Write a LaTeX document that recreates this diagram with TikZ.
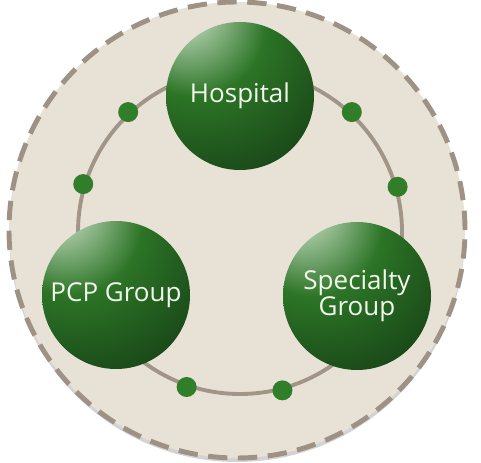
\documentclass[tikz,border=0pt]{standalone}
\usepackage{tikz}
\usetikzlibrary{shapes.geometric, positioning, shadows, calc}
\usepackage{xcolor}
\usepackage{fontspec}
\setmainfont{Open Sans}
\definecolor{carebeige}{RGB}{232, 225, 214}
\definecolor{careedge}{RGB}{158, 146, 132}
\definecolor{carering}{RGB}{160, 149, 134}
\definecolor{carehi}{RGB}{208, 228, 204}
\definecolor{caremid}{RGB}{44, 116, 38}
\definecolor{caredark}{RGB}{22, 64, 22}
\definecolor{caredarker}{RGB}{14, 44, 14}
\definecolor{caredot}{RGB}{48, 125, 42}
\definecolor{caretext}{RGB}{242, 247, 236}
\pgfdeclareradialshading{greenball}{\pgfpoint{-22bp}{34bp}}{color(0bp)=(carehi); color(4bp)=(carehi); color(24bp)=(caremid); color(48bp)=(caredark); color(80bp)=(caredarker)}
\tikzstyle{sphere} = [circle, minimum size=2.96cm, inner sep=0pt, shading=greenball, text=caretext, align=center, font=\fontsize{14.8}{17}\selectfont]
\tikzstyle{dot} = [circle, minimum size=0.4cm, inner sep=0pt, fill=caredot]
\tikzstyle{ring} = [circle, minimum size=6.48cm, inner sep=0pt, draw=carering, line width=2.2pt]

\begin{document}
\begin{tikzpicture}
\useasboundingbox (0,0) rectangle (9.62,9.24);
% outer dashed disc
\node[circle, minimum size=9.12cm, inner sep=0pt, fill=carebeige, draw=careedge, line width=2.8pt, dash pattern=on 11pt off 6pt, drop shadow={shadow xshift=0cm, shadow yshift=-0.08cm, opacity=0.35}] (disc) at (4.74,4.64) {};
% ring and dots
\node[ring] (ring) at (4.8,4.6) {};
\foreach \a in {16, 47, 133, 163, 251, 285}
    \node[dot] (dot\a) at (ring.\a) {};
% partners
\node[sphere] (hospital) at (4.8,7.32) {Hospital};
\node[sphere] (pcp) at (2.32,3.34) {PCP Group};
\node[sphere] (specialty) at (7.14,3.32) {Specialty\\[-2pt]Group};
\end{tikzpicture}
\end{document}
